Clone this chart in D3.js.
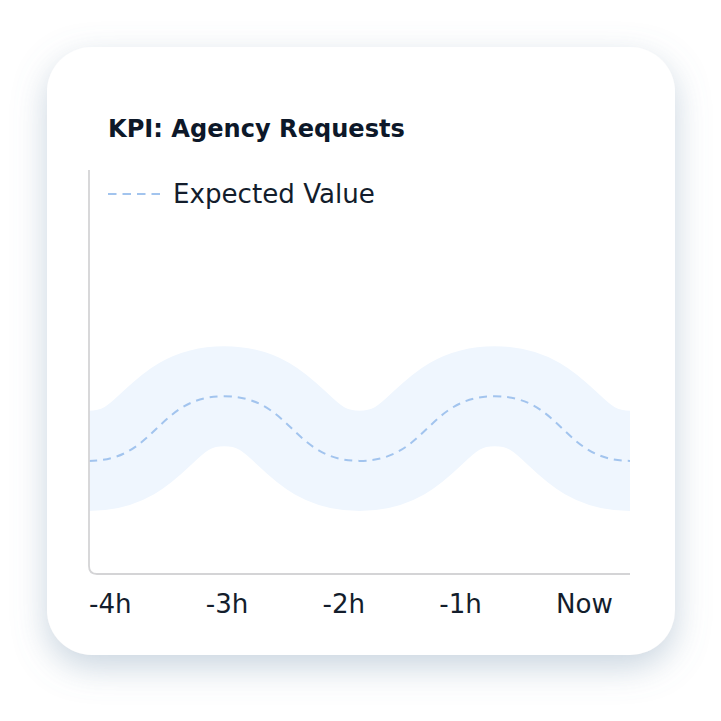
<!DOCTYPE html>
<html>
<head>
<meta charset="utf-8">
<script src="https://cdn.jsdelivr.net/npm/d3@7"></script>
<style>
    body { margin: 0; background: #ffffff; }
    svg { display: block; }
    text { font-family: "DejaVu Sans", sans-serif; fill: #131d2c; }
</style>
</head>
<body>
<div class="chart-container"></div>
<script>
// Data
const hours = [-4, -3, -2, -1, 0];
const expected = [28, 44, 28, 44, 28];
const tolerance = 12.4;
const tickLabels = ['-4h', '-3h', '-2h', '-1h', 'Now'];
const title = 'KPI: Agency Requests';
const legendLabel = 'Expected Value';

// Shrink or grow a text's font size so it spans the given width.
function fitWidth(sel, target) {
    const size = parseFloat(sel.attr('font-size'));
    const w = sel.node().getComputedTextLength();
    const next = size * target / w;
    sel.attr('font-size', next.toFixed(2));
    return next;
}

function buildChart() {
    let width = 721;
    let height = 721;
    let card = {x: 47, y: 47, w: 628, h: 608, r: 45};
    let plot = {left: 89, right: 630, top: 170, bottom: 574};

    const svg = d3
        .select('.chart-container')
        .append('svg')
        .attr('width', width)
        .attr('height', height);

    const defs = svg.append('defs');

    const shadow = defs.append('filter')
        .attr('id', 'card-shadow')
        .attr('x', '-20%')
        .attr('y', '-20%')
        .attr('width', '140%')
        .attr('height', '140%');
    shadow.append('feDropShadow')
        .attr('dx', 0)
        .attr('dy', 12)
        .attr('stdDeviation', 17)
        .attr('flood-color', '#6f8fab')
        .attr('flood-opacity', 0.38);

    // Card
    svg.append('rect')
        .attr('x', card.x)
        .attr('y', card.y)
        .attr('width', card.w)
        .attr('height', card.h)
        .attr('rx', card.r)
        .attr('fill', '#ffffff')
        .attr('filter', 'url(#card-shadow)');

    // Scales
    const x = d3.scaleLinear()
        .domain(d3.extent(hours))
        .range([plot.left, plot.right]);

    const y = d3.scaleLinear()
        .domain([0, 100])
        .range([plot.bottom, plot.top]);

    const labelScale = d3.scalePoint()
        .domain(tickLabels)
        .range([plot.left, 556]);

    defs.append('clipPath')
        .attr('id', 'plot-clip')
        .append('rect')
        .attr('x', x(hours[0]))
        .attr('y', plot.top)
        .attr('width', x(hours[hours.length - 1]) - x(hours[0]))
        .attr('height', plot.bottom - plot.top);

    const points = hours.map((h, i) => [h, expected[i]]);

    const line = d3.line()
        .x(d => x(d[0]))
        .y(d => y(d[1]))
        .curve(d3.curveBumpX);

    const plotArea = svg.append('g').attr('clip-path', 'url(#plot-clip)');

    // Tolerance band (thick stroke around expected line)
    plotArea.append('path')
        .attr('class', 'band')
        .attr('d', line(points))
        .attr('fill', 'none')
        .attr('stroke', '#eff6fe')
        .attr('stroke-width', y(0) - y(tolerance * 2))
        .attr('stroke-linecap', 'butt');

    // Expected line
    plotArea.append('path')
        .attr('class', 'expected')
        .attr('d', line(points))
        .attr('fill', 'none')
        .attr('stroke', '#a2c4ee')
        .attr('stroke-width', 2)
        .attr('stroke-dasharray', '8 6');

    // Axes (rounded corner)
    const r = 8;
    svg.append('path')
        .attr('d', `M${plot.left},${plot.top} V${plot.bottom - r} Q${plot.left},${plot.bottom} ${plot.left + r},${plot.bottom} H${plot.right}`)
        .attr('fill', 'none')
        .attr('stroke', '#d4d4d6')
        .attr('stroke-width', 1.8);

    // Title
    const titleText = svg.append('text')
        .attr('x', 108)
        .attr('y', 137)
        .attr('font-size', 22)
        .attr('font-weight', 700)
        .style('fill', '#0d1829')
        .text(title);
    fitWidth(titleText, 297);

    // Legend
    svg.append('line')
        .attr('x1', 108)
        .attr('x2', 161)
        .attr('y1', 194)
        .attr('y2', 194)
        .attr('stroke', '#a2c4ee')
        .attr('stroke-width', 2)
        .attr('stroke-dasharray', '8.5 6');

    const legendText = svg.append('text')
        .attr('x', 173)
        .attr('y', 203)
        .attr('font-size', 22)
        .text(legendLabel);
    const bodySize = fitWidth(legendText, 202);

    // Tick labels
    svg.append('g')
        .selectAll('text')
        .data(tickLabels)
        .join('text')
        .attr('x', d => labelScale(d))
        .attr('y', 613)
        .attr('font-size', bodySize.toFixed(2))
        .text(d => d);
}

buildChart();
</script>
</body>
</html>
